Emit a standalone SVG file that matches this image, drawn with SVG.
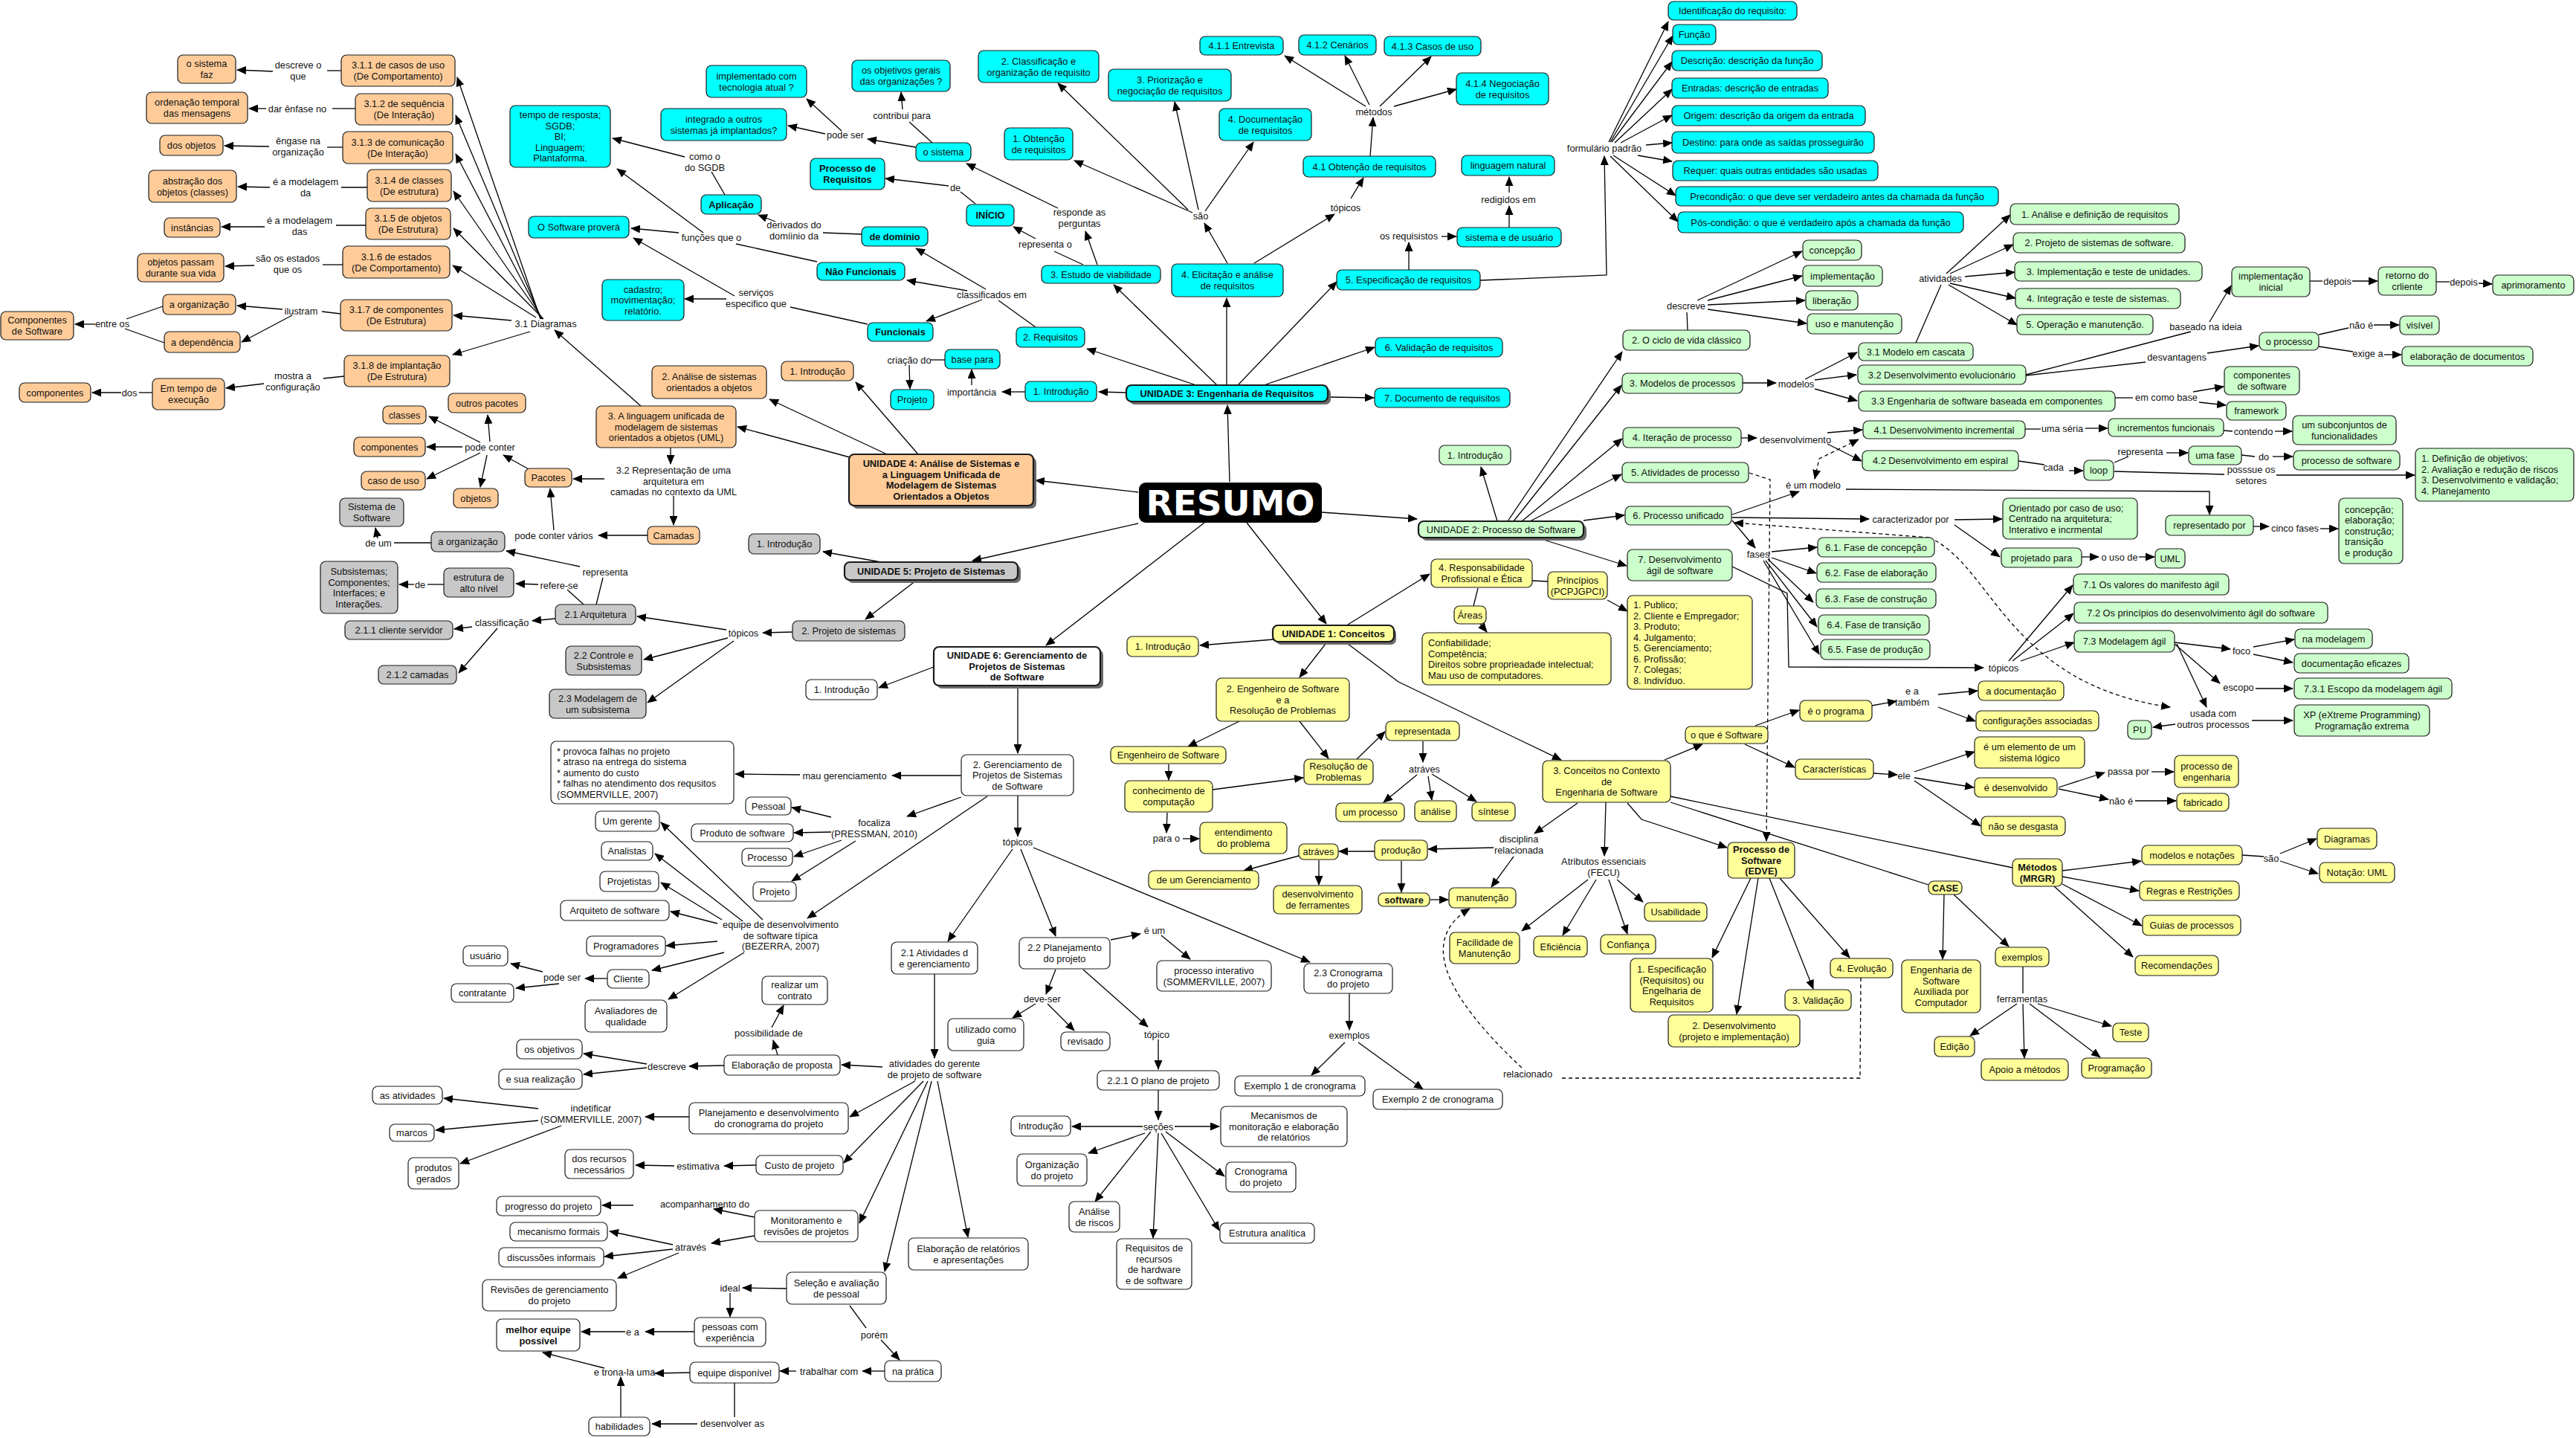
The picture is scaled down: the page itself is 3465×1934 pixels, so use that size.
<svg xmlns="http://www.w3.org/2000/svg" width="3465" height="1934" viewBox="0 0 3465 1934">
<style>
text{font-family:"Liberation Sans",Arial,Helvetica,sans-serif;font-size:12.8px;text-anchor:middle;fill:#111}
.nd rect{stroke:#1a1a1a;stroke-width:1.2;rx:7px;ry:7px}
.o rect{fill:#FFCC99}.c rect{fill:#00FFFF}.g rect{fill:#CCFFCC}.y rect{fill:#FFFF99}.s rect{fill:#C8C8C8}.w rect{fill:#fff}
.b text{font-weight:bold}
.u rect{stroke-width:2.2}
.u rect.sh{fill:#6a6a6a;stroke:none}
.lt text{text-anchor:start}
#conn path{stroke:#000;stroke-width:1.3;fill:none}
#conn path.a{marker-end:url(#ah)}
#conn path.d{stroke-dasharray:5 4}
#conn path.bs{marker-start:url(#ah)}
</style>
<defs>
<marker id="ah" markerUnits="userSpaceOnUse" markerWidth="13" markerHeight="11" refX="12" refY="5.5" orient="auto-start-reverse"><path d="M0,0 L13,5.5 L0,11 z" fill="#000"/></marker>
</defs>
<rect width="3465" height="1934" fill="#fff"/>
<g id="conn">
<path d="M459 95 L440 95"/><path class="a" d="M367 96 L319 94"/>
<path d="M478 146 L447 146"/><path class="a" d="M358 146 L335 146"/>
<path d="M461 198 L440 198"/><path class="a" d="M362 197 L302 196"/>
<path d="M494 252 L459 252"/><path class="a" d="M363 252 L320 251"/>
<path d="M492 303 L452 303"/><path class="a" d="M356 305 L298 305"/>
<path d="M461 356 L434 356"/><path class="a" d="M342 357 L303 358"/>
<path d="M458 422 L433 419"/><path class="a" d="M380 416 L319 411"/><path class="a" d="M393 424 L325 460"/>
<path d="M219 412 L170 429"/><path d="M221 461 L168 442"/><path class="a" d="M128 436 L101 436"/>
<path d="M463 506 L435 509"/><path class="a" d="M355 516 L304 522"/>
<path d="M205 528 L187 528"/><path class="a" d="M163 528 L124 528"/>
<path class="a" d="M727 429 L615 104"/><path class="a" d="M728 429 L613 155"/><path class="a" d="M729 429 L613 207"/><path class="a" d="M730 429 L610 257"/><path class="a" d="M731 429 L610 307"/><path class="a" d="M721 427 L609 357"/><path class="a" d="M688 431 L610 424"/><path class="a" d="M713 446 L609 477"/>
<path class="a" d="M862 546 L746 444"/>
<path class="a" d="M902 602 L902 624"/>
<path class="a" d="M906 667 L906 706"/>
<path class="a" d="M813 644 L771 644"/>
<path class="a" d="M871 720 L805 720"/>
<path class="a" d="M745 713 L740 657"/>
<path class="a" d="M713 632 L677 612"/>
<path class="a" d="M659 594 L656 558"/><path class="a" d="M646 595 L577 560"/><path class="a" d="M622 601 L574 601"/><path class="a" d="M646 609 L574 644"/><path class="a" d="M655 612 L646 655"/>
<path class="a" d="M1531 662 L1393 646"/>
<path class="a" d="M1235 611 L1151 514"/>
<path class="a" d="M1193 611 L1035 537"/>
<path class="a" d="M1143 615 L992 574"/>
<path class="a" d="M1654 648 L1651 545"/>
<path class="a" d="M1515 528 L1478 527"/>
<path class="a" d="M1379 527 L1348 527"/>
<path class="a" d="M1307 518 L1307 497"/>
<path d="M1271 484 L1252 484"/>
<path class="a" d="M1223 491 L1224 523"/>
<path class="a" d="M1609 518 L1462 469"/>
<path class="a" d="M1637 518 L1498 383"/>
<path class="a" d="M1650 518 L1650 401"/>
<path class="a" d="M1665 518 L1798 379"/>
<path class="a" d="M1700 518 L1849 467"/>
<path class="a" d="M1786 534 L1848 535"/>
<path d="M1393 440 L1343 404"/>
<path class="a" d="M1326 389 L1232 334"/>
<path class="a" d="M1301 391 L1220 377"/>
<path class="a" d="M1321 403 L1246 432"/>
<path d="M1159 315 L1107 313"/>
<path class="a" d="M1043 298 L1020 289"/>
<path d="M975 262 L957 231"/>
<path class="a" d="M921 211 L824 186"/>
<path d="M1099 352 L990 328"/>
<path class="a" d="M913 313 L849 307"/>
<path class="a" d="M946 313 L830 227"/>
<path d="M1167 436 L1063 413"/>
<path class="a" d="M977 402 L921 402"/>
<path class="a" d="M988 398 L852 320"/>
<path d="M1312 274 L1292 258"/><path class="a" d="M1276 250 L1191 240"/>
<path d="M1457 356 L1418 338"/><path class="a" d="M1393 321 L1363 305"/>
<path class="a" d="M1476 356 L1460 311"/>
<path class="a" d="M1423 280 L1300 220"/>
<path d="M1254 192 L1223 164"/><path class="a" d="M1214 147 L1212 124"/>
<path class="a" d="M1232 198 L1167 187"/>
<path class="a" d="M1110 180 L1060 169"/>
<path class="a" d="M1132 176 L1085 133"/>
<path class="a" d="M1651 354 L1620 300"/>
<path class="a" d="M1604 286 L1445 216"/>
<path class="a" d="M1598 282 L1423 112"/>
<path class="a" d="M1612 282 L1580 137"/>
<path class="a" d="M1621 284 L1686 191"/>
<path class="a" d="M1687 354 L1795 288"/>
<path class="a" d="M1817 267 L1834 239"/>
<path class="a" d="M1843 210 L1847 158"/>
<path class="a" d="M1837 143 L1728 75"/>
<path class="a" d="M1842 141 L1809 75"/>
<path class="a" d="M1856 143 L1925 76"/>
<path class="a" d="M1875 143 L1959 120"/>
<path class="a" d="M1895 363 L1895 326"/>
<path class="a" d="M1939 318 L1959 318"/>
<path class="a" d="M2030 306 L2030 277"/>
<path class="a" d="M2030 259 L2030 238"/>
<path class="a" d="M1991 377 L2161 370 L2158 210"/>
<path class="a" d="M2164 191 L2244 29"/><path class="a" d="M2166 191 L2250 48"/><path class="a" d="M2168 191 L2249 83"/><path class="a" d="M2172 192 L2249 120"/><path class="a" d="M2180 192 L2249 155"/><path class="a" d="M2214 195 L2249 192"/><path class="a" d="M2203 209 L2249 217"/><path class="a" d="M2170 209 L2254 263"/><path class="a" d="M2166 210 L2257 298"/>
<path class="a" d="M1778 689 L1906 698"/>
<path class="a" d="M2014 701 L1992 628"/>
<path class="a" d="M2028 701 L2182 473"/>
<path class="a" d="M2036 701 L2181 518"/>
<path class="a" d="M2047 701 L2182 590"/>
<path class="a" d="M2058 701 L2181 638"/>
<path class="a" d="M2130 700 L2185 693"/>
<path class="a" d="M2067 723 L2188 761"/>
<path d="M2270 444 L2269 420"/>
<path class="a" d="M2283 404 L2424 338"/><path class="a" d="M2297 404 L2424 371"/><path class="a" d="M2297 410 L2428 404"/><path class="a" d="M2297 416 L2430 435"/>
<path class="a" d="M2344 515 L2389 515"/>
<path class="a" d="M2428 510 L2498 474"/><path class="a" d="M2441 511 L2497 504"/><path class="a" d="M2441 523 L2498 539"/>
<path d="M2577 461 L2611 383"/>
<path class="a" d="M2618 368 L2704 289"/><path class="a" d="M2623 368 L2708 329"/><path class="a" d="M2643 372 L2710 366"/><path class="a" d="M2623 381 L2711 401"/><path class="a" d="M2621 383 L2713 437"/>
<path d="M2725 504 L2947 446"/><path class="a" d="M2972 433 L3001 384"/>
<path d="M2725 505 L2886 487"/><path class="a" d="M2969 475 L3038 465"/>
<path d="M3119 450 L3159 441"/><path class="a" d="M3193 437 L3227 437"/>
<path d="M3119 466 L3165 473"/><path class="a" d="M3207 477 L3230 477"/>
<path d="M3107 378 L3124 378"/><path class="a" d="M3164 378 L3198 378"/>
<path d="M3277 379 L3295 379"/><path class="a" d="M3334 381 L3352 382"/>
<path d="M2845 535 L2869 535"/><path class="a" d="M2950 527 L2991 520"/><path class="a" d="M2958 541 L2994 545"/>
<path class="a" d="M2342 589 L2363 589"/>
<path class="a" d="M2458 582 L2505 578"/><path class="a" d="M2458 597 L2504 620"/>
<path d="M2724 577 L2745 577"/><path class="a" d="M2805 576 L2835 576"/>
<path d="M2991 579 L3003 580"/><path class="a" d="M3060 580 L3083 580"/>
<path d="M2715 620 L2750 625"/><path class="a" d="M2783 633 L2802 633"/>
<path d="M2844 622 L2863 614"/><path class="a" d="M2914 609 L2943 609"/>
<path d="M3015 612 L3033 614"/><path class="a" d="M3057 614 L3084 614"/>
<path d="M2844 634 L2992 638"/><path class="a" d="M3062 639 L3248 639"/>
<path class="a bs d" d="M2441 644 L2447 617 L2500 591"/>
<path class="a d" d="M2353 636 L2381 645 L2376 1131"/>
<path class="a" d="M2330 692 L2420 661"/>
<path class="a" d="M2483 658 L2972 661 L2972 692"/>
<path class="a" d="M3031 708 L3052 708"/>
<path class="a" d="M3121 711 L3145 711"/>
<path class="a" d="M2330 696 L2514 698"/>
<path class="a" d="M2629 699 L2693 698"/>
<path class="a" d="M2629 706 L2690 749"/>
<path class="a" d="M2800 749 L2823 749"/>
<path class="a" d="M2877 749 L2898 749"/>
<path class="a" d="M2330 700 L2361 737"/>
<path class="a d" d="M2595 723 L2333 703"/>
<path class="a d" d="M2595 723 C2680 760 2700 920 2919 951"/>
<path class="a" d="M2383 742 L2444 736"/><path class="a" d="M2383 750 L2443 771"/><path class="a" d="M2378 752 L2439 810"/><path class="a" d="M2375 754 L2444 843"/><path class="a" d="M2372 754 L2447 880"/>
<path class="a" d="M2330 762 L2404 798 L2406 897 L2668 898"/>
<path class="a" d="M2702 889 L2788 787"/><path class="a" d="M2707 889 L2789 825"/><path class="a" d="M2718 889 L2790 864"/>
<path class="a" d="M2925 864 L3000 873"/>
<path class="a" d="M3031 870 L3086 860"/><path class="a" d="M3031 880 L3084 891"/>
<path class="a" d="M2925 866 L2986 919"/>
<path class="a" d="M3034 926 L3084 926"/>
<path class="a" d="M2928 866 L2968 951"/>
<path class="a" d="M3029 969 L3084 969"/>
<path class="a" d="M2926 974 L2896 978"/>
<path class="a" d="M1677 703 L1784 839"/>
<path class="a" d="M1713 860 L1614 868"/>
<path class="a" d="M1783 866 L1748 911"/>
<path class="a" d="M1813 866 L1881 917 L2100 1022"/>
<path class="a" d="M1813 840 L1923 772"/>
<path d="M2061 781 L2082 782"/>
<path class="a" d="M2162 807 L2189 822"/>
<path d="M1988 791 L1982 815"/>
<path class="a" d="M1991 839 L2000 850"/>
<path class="a" d="M1667 970 L1598 1004"/>
<path class="a" d="M1748 970 L1787 1020"/>
<path class="a" d="M1572 1028 L1572 1049"/>
<path class="a" d="M1631 1062 L1753 1046"/>
<path class="a" d="M1570 1093 L1569 1120"/>
<path class="a" d="M1591 1128 L1613 1128"/>
<path class="a" d="M1825 1021 L1863 984"/>
<path class="a" d="M1914 997 L1914 1025"/>
<path class="a" d="M1906 1042 L1861 1079"/><path class="a" d="M1921 1044 L1926 1076"/><path class="a" d="M1926 1041 L1986 1078"/>
<path class="a" d="M2122 1080 L2064 1121"/>
<path class="a" d="M2009 1140 L1921 1142"/>
<path class="a" d="M2036 1152 L2006 1193"/>
<path class="a" d="M1849 1145 L1801 1145"/>
<path class="a" d="M1774 1157 L1774 1190"/>
<path class="a" d="M1747 1151 L1673 1171"/>
<path class="a" d="M1885 1158 L1885 1200"/>
<path class="a" d="M1924 1210 L1948 1210"/>
<path class="a" d="M2160 1079 L2158 1151"/>
<path class="a" d="M2136 1183 L2047 1252"/><path class="a" d="M2147 1183 L2102 1258"/><path class="a" d="M2164 1183 L2189 1256"/><path class="a" d="M2175 1183 L2210 1213"/>
<path class="a" d="M2189 1080 L2208 1102 L2323 1140"/>
<path class="a" d="M2239 1022 L2290 1001"/>
<path class="a" d="M2361 976 L2420 955"/>
<path class="a" d="M2518 949 L2551 943"/>
<path class="a" d="M2607 934 L2660 929"/><path class="a" d="M2607 951 L2657 970"/>
<path class="a" d="M2347 1001 L2414 1032"/>
<path class="a" d="M2520 1040 L2552 1042"/>
<path class="a" d="M2575 1038 L2656 1011"/><path class="a" d="M2575 1046 L2655 1059"/><path class="a" d="M2575 1050 L2664 1111"/>
<path class="a" d="M2769 1059 L2831 1039"/>
<path class="a" d="M2894 1038 L2924 1038"/>
<path class="a" d="M2769 1061 L2836 1075"/>
<path class="a" d="M2872 1077 L2927 1077"/>
<path d="M2247 1071 L2707 1167"/>
<path d="M2247 1079 L2594 1190"/>
<path class="a" d="M2774 1171 L2880 1158"/>
<path d="M3016 1150 L3045 1152"/><path class="a" d="M3067 1148 L3116 1128"/><path class="a" d="M3067 1158 L3118 1175"/>
<path class="a" d="M2774 1179 L2877 1198"/><path class="a" d="M2774 1189 L2881 1245"/><path class="a" d="M2763 1192 L2869 1287"/>
<path class="a" d="M2615 1203 L2613 1290"/>
<path class="a" d="M2628 1203 L2702 1273"/>
<path d="M2721 1300 L2721 1336"/>
<path class="a" d="M2713 1350 L2650 1393"/><path class="a" d="M2721 1350 L2723 1423"/><path class="a" d="M2730 1350 L2825 1422"/><path class="a" d="M2741 1350 L2840 1380"/>
<path class="a" d="M2355 1181 L2303 1288"/><path class="a" d="M2365 1181 L2336 1364"/><path class="a" d="M2380 1181 L2439 1330"/><path class="a" d="M2394 1181 L2488 1288"/>
<path class="d" d="M2503 1315 L2502 1450 L2097 1450"/>
<path class="a d" d="M2047 1436 Q1880 1280 1977 1222"/>
<path class="a" d="M1531 704 L1308 754"/>
<path class="a" d="M1185 756 L1107 742"/>
<path class="a" d="M1232 781 L1164 833"/>
<path class="a" d="M1066 850 L1026 851"/>
<path class="a" d="M977 847 L857 829"/><path class="a" d="M979 858 L866 887"/><path class="a" d="M987 862 L871 945"/>
<path d="M802 813 L811 777"/><path class="a" d="M780 762 L681 741"/>
<path d="M785 813 L763 793"/><path class="a" d="M724 786 L694 785"/>
<path d="M597 786 L575 786"/><path class="a" d="M557 786 L537 786"/>
<path d="M580 730 L530 730"/><path class="a" d="M508 724 L505 710"/>
<path class="a" d="M747 832 L716 835"/>
<path class="a" d="M635 843 L611 846"/><path class="a" d="M669 845 L617 905"/>
<path class="a" d="M1620 703 L1407 868"/>
<path class="a" d="M1256 897 L1182 925"/>
<path class="a" d="M1369 922 L1369 1013"/>
<path class="a" d="M1293 1043 L1200 1043"/><path class="a" d="M1076 1042 L989 1041"/>
<path class="a" d="M1293 1072 L1220 1098"/>
<path class="a" d="M1118 1099 L1065 1086"/><path class="a" d="M1118 1119 L1068 1120"/><path class="a" d="M1132 1130 L1068 1152"/><path class="a" d="M1151 1131 L1065 1185"/>
<path class="a" d="M1328 1071 L1086 1235"/>
<path class="a" d="M1369 1070 L1369 1125"/>
<path class="a" d="M1362 1142 L1275 1266"/><path class="a" d="M1373 1142 L1420 1259"/><path class="a" d="M1390 1140 L1762 1294"/>
<path class="a" d="M1026 1237 L889 1106"/><path class="a" d="M999 1239 L881 1148"/><path class="a" d="M971 1237 L889 1187"/><path class="a" d="M965 1242 L902 1226"/><path class="a" d="M965 1266 L896 1272"/><path class="a" d="M974 1281 L877 1305"/><path class="a" d="M1001 1281 L899 1344"/>
<path class="a" d="M817 1316 L787 1316"/>
<path class="a" d="M730 1307 L687 1296"/><path class="a" d="M752 1323 L694 1329"/>
<path class="a" d="M1494 1264 L1534 1256"/>
<path class="a" d="M1562 1258 L1601 1290"/>
<path class="a" d="M1420 1304 L1407 1337"/>
<path class="a" d="M1393 1350 L1362 1369"/><path class="a" d="M1409 1350 L1445 1386"/>
<path class="a" d="M1457 1304 L1544 1381"/>
<path class="a" d="M1558 1398 L1558 1438"/>
<path class="a" d="M1558 1466 L1558 1506"/>
<path class="a" d="M1537 1515 L1442 1515"/><path class="a" d="M1580 1515 L1640 1515"/><path class="a" d="M1540 1524 L1464 1551"/><path class="a" d="M1548 1522 L1473 1616"/><path class="a" d="M1558 1524 L1551 1665"/><path class="a" d="M1568 1522 L1647 1582"/><path class="a" d="M1562 1524 L1640 1655"/>
<path class="a" d="M1815 1336 L1815 1385"/>
<path class="a" d="M1809 1402 L1764 1446"/><path class="a" d="M1827 1402 L1914 1465"/>
<path class="a" d="M1257 1310 L1257 1423"/>
<path class="a" d="M1187 1435 L1132 1432"/><path class="a" d="M1231 1454 L1143 1502"/><path class="a" d="M1242 1454 L1135 1564"/><path class="a" d="M1248 1454 L1156 1645"/><path class="a" d="M1253 1454 L1190 1710"/><path class="a" d="M1261 1454 L1302 1664"/>
<path class="a" d="M1046 1419 L1040 1399"/><path class="a" d="M1038 1382 L1054 1352"/>
<path class="a" d="M974 1433 L927 1434"/>
<path class="a" d="M870 1431 L785 1417"/><path class="a" d="M870 1436 L785 1445"/>
<path class="a" d="M927 1502 L868 1502"/>
<path class="a" d="M724 1491 L597 1477"/><path class="a" d="M724 1507 L586 1520"/><path class="a" d="M755 1514 L619 1565"/>
<path class="a" d="M1017 1567 L974 1568"/>
<path class="a" d="M907 1568 L855 1567"/>
<path class="a" d="M1015 1637 L960 1626"/>
<path class="a" d="M852 1621 L810 1621"/>
<path class="a" d="M1015 1662 L957 1672"/>
<path class="a" d="M905 1674 L820 1656"/><path class="a" d="M905 1680 L813 1690"/><path class="a" d="M913 1685 L831 1719"/>
<path class="a" d="M1058 1733 L999 1732"/>
<path class="a" d="M982 1739 L982 1771"/>
<path class="a" d="M934 1791 L868 1791"/>
<path class="a" d="M841 1791 L782 1791"/>
<path d="M1143 1756 L1165 1786"/><path class="a" d="M1185 1802 L1210 1829"/>
<path class="a" d="M1190 1844 L1160 1844"/>
<path class="a" d="M1071 1844 L1049 1844"/>
<path class="a" d="M928 1846 L881 1847"/>
<path class="a" d="M813 1840 L730 1819"/>
<path d="M988 1860 L988 1906"/>
<path class="a" d="M938 1915 L877 1915"/>
<path class="a" d="M835 1906 L835 1852"/>
</g>
<g id="link-labels">
<text x="401" y="92">descreve o<tspan x="401" dy="14.5">que</tspan></text>
<text x="400" y="150.6">dar ênfase no</text>
<text x="401" y="194">êngase na<tspan x="401" dy="14.5">organização</tspan></text>
<text x="411" y="249">é a modelagem<tspan x="411" dy="14.5">da</tspan></text>
<text x="403" y="301">é a modelagem<tspan x="403" dy="14.5">das</tspan></text>
<text x="387" y="352">são os estados<tspan x="387" dy="14.5">que os</tspan></text>
<text x="405" y="422.6">ilustram</text>
<text x="151" y="439.6">entre os</text>
<text x="734" y="439.6">3.1 Diagramas</text>
<text x="394" y="510">mostra a<tspan x="394" dy="14.5">configuração</tspan></text>
<text x="174" y="532.6">dos</text>
<text x="659" y="605.6">pode conter</text>
<text x="906" y="637">3.2 Representação de uma<tspan x="906" dy="14.5">arquitetura em</tspan><tspan x="906" dy="14.5">camadas no contexto da UML</tspan></text>
<text x="745" y="724.6">pode conter vários</text>
<text x="509" y="734.6">de um</text>
<text x="814" y="773.6">representa</text>
<text x="565" y="790.6">de</text>
<text x="752" y="791.6">refere-se</text>
<text x="675" y="841.6">classificação</text>
<text x="948" y="215">como o<tspan x="948" dy="14.5">do SGDB</tspan></text>
<text x="957" y="323.6">funções que o</text>
<text x="1017" y="398">serviços<tspan x="1017" dy="14.5">especifico que</tspan></text>
<text x="1068" y="307">derivados do<tspan x="1068" dy="14.5">domíinio da</tspan></text>
<text x="1137" y="185.6">pode ser</text>
<text x="1213" y="159.6">contribui para</text>
<text x="1285" y="256.6">de</text>
<text x="1452" y="290">responde as<tspan x="1452" dy="14.5">perguntas</tspan></text>
<text x="1406" y="332.6">representa o</text>
<text x="1334" y="400.6">classificados em</text>
<text x="1223" y="488.6">criação do</text>
<text x="1307" y="531.6">importância</text>
<text x="1615" y="294.6">são</text>
<text x="1848" y="154.6">métodos</text>
<text x="1810" y="283.6">tópicos</text>
<text x="2029" y="272.6">redigidos em</text>
<text x="1895" y="321.6">os requisistos</text>
<text x="2158" y="203.6">formulário padrão</text>
<text x="2268" y="415.6">descreve</text>
<text x="2610" y="378.6">atividades</text>
<text x="2416" y="520.6">modelos</text>
<text x="2967" y="443.6">baseado na ideia</text>
<text x="2928" y="484.6">desvantagens</text>
<text x="3144" y="382.6">depois</text>
<text x="3314" y="383.6">depois</text>
<text x="3176" y="441.6">não é</text>
<text x="3185" y="479.6">exige a</text>
<text x="2914" y="538.6">em como base</text>
<text x="2415" y="595.6">desenvolvimento</text>
<text x="2774" y="580.6">uma séria</text>
<text x="3031" y="584.6">contendo</text>
<text x="2762" y="632.6">cada</text>
<text x="2879" y="611.6">representa</text>
<text x="3045" y="618.6">do</text>
<text x="3028" y="636">posssue os<tspan x="3028" dy="14.5">setores</tspan></text>
<text x="2439" y="656.6">é um modelo</text>
<text x="2570" y="702.6">caracterizador por</text>
<text x="3087" y="714.6">cinco fases</text>
<text x="2851" y="753.6">o uso de</text>
<text x="2365" y="749.6">fases</text>
<text x="2695" y="902.6">tópicos</text>
<text x="3015" y="879.6">foco</text>
<text x="3011" y="928.6">escopo</text>
<text x="2977" y="964">usada com<tspan x="2977" dy="14.5">outros processos</tspan></text>
<text x="1916" y="1038.6">atráves</text>
<text x="1569" y="1131.6">para o</text>
<text x="2043" y="1133">disciplina<tspan x="2043" dy="14.5">relacionada</tspan></text>
<text x="2157" y="1163">Atributos essenciais<tspan x="2157" dy="14.5">(FECU)</tspan></text>
<text x="2572" y="934">e a<tspan x="2572" dy="14.5">também</tspan></text>
<text x="2561" y="1047.6">ele</text>
<text x="2863" y="1041.6">passa por</text>
<text x="2853" y="1081.6">não é</text>
<text x="3055" y="1158.6">são</text>
<text x="2720" y="1347.6">ferramentas</text>
<text x="2055" y="1448.6">relacionado</text>
<text x="1815" y="1396.6">exemplos</text>
<text x="1000" y="855.6">tópicos</text>
<text x="1136" y="1047.6">mau gerenciamento</text>
<text x="1176" y="1111">focaliza<tspan x="1176" dy="14.5">(PRESSMAN, 2010)</tspan></text>
<text x="1369" y="1136.6">tópicos</text>
<text x="1050" y="1248">equipe de desenvolvimento<tspan x="1050" dy="14.5">de software típica</tspan><tspan x="1050" dy="14.5">(BEZERRA, 2007)</tspan></text>
<text x="1553" y="1255.6">é um</text>
<text x="756" y="1318.6">pode ser</text>
<text x="1402" y="1347.6">deve-ser</text>
<text x="1556" y="1395.6">tópico</text>
<text x="1558" y="1519.6">seções</text>
<text x="1034" y="1393.6">possibilidade de</text>
<text x="1257" y="1435">atividades do gerente<tspan x="1257" dy="14.5">de projeto de software</tspan></text>
<text x="897" y="1438.6">descreve</text>
<text x="795" y="1495">indetificar<tspan x="795" dy="14.5">(SOMMERVILLE, 2007)</tspan></text>
<text x="939" y="1572.6">estimativa</text>
<text x="948" y="1623.6">acompanhamento do</text>
<text x="929" y="1681.6">através</text>
<text x="982" y="1736.6">ideal</text>
<text x="851" y="1795.6">e a</text>
<text x="1176" y="1799.6">porém</text>
<text x="1115" y="1848.6">trabalhar com</text>
<text x="840" y="1849.6">e trona-la uma</text>
<text x="985" y="1918.6">desenvolver as</text>
</g>
<g id="resumo"><rect x="1532" y="649" width="246" height="54" rx="9" fill="#000"/><text x="1655" y="693" style="font-family:'DejaVu Sans','Liberation Sans',sans-serif;font-size:47px;font-weight:bold;fill:#fff">RESUMO</text></g>
<g id="n1" class="nd o"><rect x="239" y="74" width="78" height="38"/><text x="278" y="90">o sistema<tspan x="278" dy="14.5">faz</tspan></text></g>
<g id="n2" class="nd o"><rect x="459" y="74" width="153" height="42"/><text x="535.5" y="92">3.1.1 de casos de uso<tspan x="535.5" dy="14.5">(De Comportamento)</tspan></text></g>
<g id="n3" class="nd o"><rect x="197" y="124" width="136" height="42"/><text x="265" y="142">ordenação temporal<tspan x="265" dy="14.5">das mensagens</tspan></text></g>
<g id="n4" class="nd o"><rect x="478" y="126" width="131" height="42"/><text x="543.5" y="144">3.1.2 de sequência<tspan x="543.5" dy="14.5">(De Interação)</tspan></text></g>
<g id="n5" class="nd o"><rect x="215" y="182" width="85" height="27"/><text x="257.5" y="200">dos objetos</text></g>
<g id="n6" class="nd o"><rect x="461" y="177" width="148" height="43"/><text x="535" y="196">3.1.3 de comunicação<tspan x="535" dy="14.5">(De Interação)</tspan></text></g>
<g id="n7" class="nd o"><rect x="200" y="229" width="118" height="43"/><text x="259" y="248">abstração dos<tspan x="259" dy="14.5">objetos (classes)</tspan></text></g>
<g id="n8" class="nd o"><rect x="494" y="228" width="113" height="43"/><text x="550.5" y="247">3.1.4 de classes<tspan x="550.5" dy="14.5">(De estrutura)</tspan></text></g>
<g id="n9" class="nd o"><rect x="221" y="293" width="75" height="26"/><text x="258.5" y="310.6">instâncias</text></g>
<g id="n10" class="nd o"><rect x="492" y="280" width="114" height="42"/><text x="549" y="298">3.1.5 de objetos<tspan x="549" dy="14.5">(De Estrutura)</tspan></text></g>
<g id="n11" class="nd o"><rect x="185" y="341" width="116" height="38"/><text x="243" y="357">objetos passam<tspan x="243" dy="14.5">durante sua vida</tspan></text></g>
<g id="n12" class="nd o"><rect x="461" y="331" width="144" height="43"/><text x="533" y="350">3.1.6 de estados<tspan x="533" dy="14.5">(De Comportamento)</tspan></text></g>
<g id="n13" class="nd o"><rect x="219" y="396" width="98" height="27"/><text x="268" y="414">a organização</text></g>
<g id="n14" class="nd o"><rect x="1" y="419" width="98" height="38"/><text x="50" y="435">Componentes<tspan x="50" dy="14.5">de Software</tspan></text></g>
<g id="n15" class="nd o"><rect x="221" y="446" width="102" height="28"/><text x="272" y="464.6">a dependência</text></g>
<g id="n16" class="nd o"><rect x="458" y="403" width="150" height="42"/><text x="533" y="421">3.1.7 de componentes<tspan x="533" dy="14.5">(De Estrutura)</tspan></text></g>
<g id="n17" class="nd o"><rect x="463" y="478" width="142" height="42"/><text x="534" y="496">3.1.8 de implantação<tspan x="534" dy="14.5">(De Estrutura)</tspan></text></g>
<g id="n18" class="nd o"><rect x="205" y="509" width="97" height="42"/><text x="253.5" y="527">Em tempo de<tspan x="253.5" dy="14.5">execução</tspan></text></g>
<g id="n19" class="nd o"><rect x="26" y="515" width="96" height="26"/><text x="74" y="532.6">componentes</text></g>
<g id="n20" class="nd o"><rect x="603" y="529" width="104" height="26"/><text x="655" y="546.6">outros pacotes</text></g>
<g id="n21" class="nd o"><rect x="515" y="546" width="58" height="24"/><text x="544" y="562.6">classes</text></g>
<g id="n22" class="nd o"><rect x="476" y="588" width="96" height="26"/><text x="524" y="605.6">componentes</text></g>
<g id="n23" class="nd o"><rect x="486" y="634" width="86" height="25"/><text x="529" y="651">caso de uso</text></g>
<g id="n24" class="nd o"><rect x="706" y="630" width="63" height="25"/><text x="737.5" y="647">Pacotes</text></g>
<g id="n25" class="nd o"><rect x="610" y="657" width="60" height="26"/><text x="640" y="674.6">objetos</text></g>
<g id="n26" class="nd o"><rect x="802" y="546" width="188" height="56"/><text x="896" y="564">3. A linguagem unificada de<tspan x="896" dy="14.5">modelagem de sistemas</tspan><tspan x="896" dy="14.5">orientados a objetos (UML)</tspan></text></g>
<g id="n27" class="nd o"><rect x="871" y="708" width="70" height="24"/><text x="906" y="724.6">Camadas</text></g>
<g id="n28" class="nd o"><rect x="877" y="492" width="154" height="44"/><text x="954" y="511">2. Análise de sistemas<tspan x="954" dy="14.5">orientados a objetos</tspan></text></g>
<g id="n29" class="nd o"><rect x="1051" y="486" width="97" height="26"/><text x="1099.5" y="503.6">1. Introdução</text></g>
<g id="u4" class="nd o b u"><rect class="sh" x="1146" y="615" width="248" height="69"/><rect x="1142" y="611" width="248" height="69"/><text x="1266" y="628.4">UNIDADE 4: Análise de Sistemas e<tspan x="1266" dy="14.5">a Linguagem Unificada de</tspan><tspan x="1266" dy="14.5">Modelagem de Sistemas</tspan><tspan x="1266" dy="14.5">Orientados a Objetos</tspan></text></g>
<g id="n31" class="nd c"><rect x="686" y="142" width="135" height="83"/><text x="753.5" y="159">tempo de resposta;<tspan x="753.5" dy="14.5">SGDB;</tspan><tspan x="753.5" dy="14.5">BI;</tspan><tspan x="753.5" dy="14.5">Linguagem;</tspan><tspan x="753.5" dy="14.5">Plantaforma.</tspan></text></g>
<g id="n32" class="nd c"><rect x="711" y="291" width="135" height="29"/><text x="778.5" y="310">O Software proverá</text></g>
<g id="n33" class="nd c"><rect x="810" y="376" width="110" height="55"/><text x="865" y="393.6">cadastro;<tspan x="865" dy="14.5">movimentação;</tspan><tspan x="865" dy="14.5">relatório.</tspan></text></g>
<g id="n34" class="nd c"><rect x="950" y="88" width="135" height="43"/><text x="1017.5" y="107">implementado com<tspan x="1017.5" dy="14.5">tecnologia atual ?</tspan></text></g>
<g id="n35" class="nd c"><rect x="1146" y="81" width="132" height="42"/><text x="1212" y="99">os objetivos gerais<tspan x="1212" dy="14.5">das organizações ?</tspan></text></g>
<g id="n36" class="nd c"><rect x="889" y="146" width="169" height="43"/><text x="973.5" y="165">integrado a outros<tspan x="973.5" dy="14.5">sistemas já implantados?</tspan></text></g>
<g id="n37" class="nd c"><rect x="1232" y="192" width="74" height="25"/><text x="1269" y="209">o sistema</text></g>
<g id="n38" class="nd c b"><rect x="1090" y="213" width="100" height="42"/><text x="1140" y="231">Processo de<tspan x="1140" dy="14.5">Requisitos</tspan></text></g>
<g id="n39" class="nd c b"><rect x="943" y="262" width="81" height="26"/><text x="983.5" y="279.6">Aplicação</text></g>
<g id="n40" class="nd c b"><rect x="1300" y="275" width="64" height="29"/><text x="1332" y="294">INÍCIO</text></g>
<g id="n41" class="nd c b"><rect x="1159" y="305" width="89" height="26"/><text x="1203.5" y="322.6">de domínio</text></g>
<g id="n42" class="nd c b"><rect x="1099" y="353" width="118" height="24"/><text x="1158" y="369.6">Não Funcionais</text></g>
<g id="n43" class="nd c"><rect x="1401" y="357" width="160" height="24"/><text x="1481" y="373.6">3. Estudo de viabilidade</text></g>
<g id="n44" class="nd c"><rect x="1576" y="355" width="150" height="44"/><text x="1651" y="374">4. Elicitação e análise<tspan x="1651" dy="14.5">de requisitos</tspan></text></g>
<g id="n45" class="nd c b"><rect x="1167" y="434" width="88" height="25"/><text x="1211" y="451">Funcionais</text></g>
<g id="n46" class="nd c"><rect x="1367" y="440" width="92" height="27"/><text x="1413" y="458">2. Requisitos</text></g>
<g id="n47" class="nd c"><rect x="1271" y="470" width="74" height="26"/><text x="1308" y="487.6">base para</text></g>
<g id="n48" class="nd c"><rect x="1198" y="524" width="58" height="27"/><text x="1227" y="542">Projeto</text></g>
<g id="n49" class="nd c"><rect x="1379" y="513" width="96" height="27"/><text x="1427" y="531">1. Introdução</text></g>
<g id="u3" class="nd c b u"><rect class="sh" x="1519" y="522" width="271" height="22"/><rect x="1515" y="518" width="271" height="22"/><text x="1650.5" y="533.6">UNIDADE 3: Engenharia de Requisitos</text></g>
<g id="n51" class="nd c"><rect x="1316" y="68" width="162" height="43"/><text x="1397" y="87">2. Classificação e<tspan x="1397" dy="14.5">organização de requisito</tspan></text></g>
<g id="n52" class="nd c"><rect x="1491" y="93" width="165" height="43"/><text x="1573.5" y="112">3. Priorização e<tspan x="1573.5" dy="14.5">negociação de requisitos</tspan></text></g>
<g id="n53" class="nd c"><rect x="1614" y="49" width="112" height="25"/><text x="1670" y="66">4.1.1 Entrevista</text></g>
<g id="n54" class="nd c"><rect x="1351" y="172" width="92" height="43"/><text x="1397" y="191">1. Obtenção<tspan x="1397" dy="14.5">de requisitos</tspan></text></g>
<g id="n55" class="nd c"><rect x="1640" y="146" width="124" height="43"/><text x="1702" y="165">4. Documentação<tspan x="1702" dy="14.5">de requisitos</tspan></text></g>
<g id="n56" class="nd c"><rect x="1747" y="47" width="104" height="27"/><text x="1799" y="65">4.1.2 Cenários</text></g>
<g id="n57" class="nd c"><rect x="1862" y="49" width="130" height="26"/><text x="1927" y="66.6">4.1.3 Casos de uso</text></g>
<g id="n58" class="nd c"><rect x="1959" y="98" width="124" height="43"/><text x="2021" y="117">4.1.4 Negociação<tspan x="2021" dy="14.5">de requisitos</tspan></text></g>
<g id="n59" class="nd c"><rect x="1753" y="210" width="178" height="28"/><text x="1842" y="228.6">4.1 Obtenção de requisitos</text></g>
<g id="n60" class="nd c"><rect x="1966" y="209" width="125" height="27"/><text x="2028.5" y="227">linguagem natural</text></g>
<g id="n61" class="nd c"><rect x="1960" y="306" width="140" height="26"/><text x="2030" y="323.6">sistema e de usuário</text></g>
<g id="n62" class="nd c"><rect x="1798" y="363" width="193" height="27"/><text x="1894.5" y="381">5. Especificação de requisitos</text></g>
<g id="n63" class="nd c"><rect x="2244" y="2" width="173" height="25"/><text x="2330.5" y="19">Identificação do requisito:</text></g>
<g id="n64" class="nd c"><rect x="2250" y="33" width="58" height="27"/><text x="2279" y="51">Função</text></g>
<g id="n65" class="nd c"><rect x="2249" y="68" width="202" height="27"/><text x="2350" y="86">Descrição: descrição da função</text></g>
<g id="n66" class="nd c"><rect x="2249" y="105" width="210" height="27"/><text x="2354" y="123">Entradas: descrição de entradas</text></g>
<g id="n67" class="nd c"><rect x="2249" y="142" width="260" height="27"/><text x="2379" y="160">Origem: descrição da origem da entrada</text></g>
<g id="n68" class="nd c"><rect x="2249" y="177" width="272" height="29"/><text x="2385" y="196">Destino: para onde as saídas prosseguirão</text></g>
<g id="n69" class="nd c"><rect x="2250" y="216" width="276" height="27"/><text x="2388" y="234">Requer: quais outras entidades são usadas</text></g>
<g id="n70" class="nd c"><rect x="2254" y="251" width="434" height="26"/><text x="2471" y="268.6">Precondição: o que deve ser verdadeiro antes da chamada da função</text></g>
<g id="n71" class="nd c"><rect x="2257" y="285" width="384" height="28"/><text x="2449" y="303.6">Pós-condição: o que é verdadeiro após a chamada da função</text></g>
<g id="n72" class="nd c"><rect x="1850" y="454" width="171" height="26"/><text x="1935.5" y="471.6">6. Validação de requisitos</text></g>
<g id="n73" class="nd c"><rect x="1849" y="522" width="182" height="26"/><text x="1940" y="539.6">7. Documento de requisitos</text></g>
<g id="n74" class="nd g"><rect x="2425" y="323" width="79" height="27"/><text x="2464.5" y="341">concepção</text></g>
<g id="n75" class="nd g"><rect x="2425" y="357" width="107" height="28"/><text x="2478.5" y="375.6">implementação</text></g>
<g id="n76" class="nd g"><rect x="2429" y="391" width="70" height="26"/><text x="2464" y="408.6">liberação</text></g>
<g id="n77" class="nd g"><rect x="2431" y="422" width="127" height="27"/><text x="2494.5" y="440">uso e manutenção</text></g>
<g id="n78" class="nd g"><rect x="2183" y="444" width="171" height="27"/><text x="2268.5" y="462">2. O ciclo de vida clássico</text></g>
<g id="n79" class="nd g"><rect x="2182" y="502" width="162" height="27"/><text x="2263" y="520">3. Modelos de processos</text></g>
<g id="n80" class="nd g"><rect x="2500" y="461" width="154" height="24"/><text x="2577" y="477.6">3.1 Modelo em cascata</text></g>
<g id="n81" class="nd g"><rect x="2499" y="491" width="226" height="26"/><text x="2612" y="508.6">3.2 Desenvolvimento evolucionário</text></g>
<g id="n82" class="nd g"><rect x="2500" y="526" width="345" height="27"/><text x="2672.5" y="544">3.3 Engenharia de software baseada em componentes</text></g>
<g id="n83" class="nd g"><rect x="2183" y="575" width="159" height="27"/><text x="2262.5" y="593">4. Iteração de processo</text></g>
<g id="n84" class="nd g"><rect x="2506" y="566" width="218" height="24"/><text x="2615" y="582.6">4.1 Desenvolvimento incremental</text></g>
<g id="n85" class="nd g"><rect x="2505" y="606" width="210" height="27"/><text x="2610" y="624">4.2 Desenvolvimento em espiral</text></g>
<g id="n86" class="nd g"><rect x="2182" y="622" width="170" height="27"/><text x="2267" y="640">5. Atividades de processo</text></g>
<g id="n87" class="nd g"><rect x="1936" y="599" width="96" height="26"/><text x="1984" y="616.6">1. Introdução</text></g>
<g id="n88" class="nd g"><rect x="2704" y="274" width="227" height="28"/><text x="2817.5" y="292.6">1. Análise e definição de requisitos</text></g>
<g id="n89" class="nd g"><rect x="2708" y="313" width="231" height="27"/><text x="2823.5" y="331">2. Projeto de sistemas de software.</text></g>
<g id="n90" class="nd g"><rect x="2710" y="352" width="252" height="26"/><text x="2836" y="369.6">3. Implementação e teste de unidades.</text></g>
<g id="n91" class="nd g"><rect x="2711" y="388" width="222" height="27"/><text x="2822" y="406">4. Integração e teste de sistemas.</text></g>
<g id="n92" class="nd g"><rect x="2713" y="423" width="183" height="27"/><text x="2804.5" y="441">5. Operação e manutenção.</text></g>
<g id="n93" class="nd g"><rect x="3002" y="359" width="105" height="40"/><text x="3054.5" y="376">implementação<tspan x="3054.5" dy="14.5">inicial</tspan></text></g>
<g id="n94" class="nd g"><rect x="3199" y="359" width="78" height="38"/><text x="3238" y="375">retorno do<tspan x="3238" dy="14.5">crliente</tspan></text></g>
<g id="n95" class="nd g"><rect x="3353" y="370" width="109" height="27"/><text x="3407.5" y="388">aprimoramento</text></g>
<g id="n96" class="nd g"><rect x="3039" y="447" width="80" height="24"/><text x="3079" y="463.6">o processo</text></g>
<g id="n97" class="nd g"><rect x="3228" y="425" width="53" height="25"/><text x="3254.5" y="442">visível</text></g>
<g id="n98" class="nd g"><rect x="3231" y="466" width="176" height="26"/><text x="3319" y="483.6">elaboração de documentos</text></g>
<g id="n99" class="nd g"><rect x="2992" y="493" width="101" height="38"/><text x="3042.5" y="509">componentes<tspan x="3042.5" dy="14.5">de software</tspan></text></g>
<g id="n100" class="nd g"><rect x="2995" y="540" width="80" height="25"/><text x="3035" y="557">framework</text></g>
<g id="n101" class="nd g"><rect x="2836" y="563" width="155" height="24"/><text x="2913.5" y="579.6">incrementos funcionais</text></g>
<g id="n102" class="nd g"><rect x="3084" y="559" width="139" height="39"/><text x="3153.5" y="576">um subconjuntos de<tspan x="3153.5" dy="14.5">funcionalidades</tspan></text></g>
<g id="n103" class="nd g"><rect x="2803" y="619" width="40" height="27"/><text x="2823" y="637">loop</text></g>
<g id="n104" class="nd g"><rect x="2944" y="600" width="71" height="25"/><text x="2979.5" y="617">uma fase</text></g>
<g id="n105" class="nd g"><rect x="3085" y="606" width="143" height="26"/><text x="3156.5" y="623.6">processo de software</text></g>
<g id="n106" class="nd g lt"><rect x="3249" y="603" width="213" height="71"/><text x="3257" y="621">1. Definição de objetivos;<tspan x="3257" dy="14.5">2. Avaliação e redução de riscos</tspan><tspan x="3257" dy="14.5">3. Desenvolvimento e validação;</tspan><tspan x="3257" dy="14.5">4. Planejamento</tspan></text></g>
<g id="u2" class="nd g u"><rect class="sh" x="1912" y="705" width="222" height="22"/><rect x="1908" y="701" width="222" height="22"/><text x="2019" y="716.6">UNIDADE 2: Processo de Software</text></g>
<g id="n108" class="nd g"><rect x="2186" y="681" width="143" height="25"/><text x="2257.5" y="698">6. Processo unificado</text></g>
<g id="n109" class="nd g lt"><rect x="2694" y="670" width="181" height="55"/><text x="2702" y="687.6">Orientado por caso de uso;<tspan x="2702" dy="14.5">Centrado na arquitetura;</tspan><tspan x="2702" dy="14.5">Interativo e incrmental</tspan></text></g>
<g id="n110" class="nd g"><rect x="2913" y="693" width="118" height="27"/><text x="2972" y="711">representado por</text></g>
<g id="n111" class="nd g lt"><rect x="3146" y="670" width="86" height="88"/><text x="3154" y="689.6">concepção;<tspan x="3154" dy="14.5">elaboração;</tspan><tspan x="3154" dy="14.5">construção;</tspan><tspan x="3154" dy="14.5">transição</tspan><tspan x="3154" dy="14.5">e produção</tspan></text></g>
<g id="n112" class="nd g"><rect x="2692" y="737" width="108" height="26"/><text x="2746" y="754.6">projetado para</text></g>
<g id="n113" class="nd g"><rect x="2899" y="738" width="40" height="26"/><text x="2919" y="755.6">UML</text></g>
<g id="n114" class="nd g"><rect x="2445" y="723" width="157" height="26"/><text x="2523.5" y="740.6">6.1. Fase de concepção</text></g>
<g id="n115" class="nd g"><rect x="2444" y="757" width="160" height="26"/><text x="2524" y="774.6">6.2. Fase de elaboração</text></g>
<g id="n116" class="nd g"><rect x="2443" y="792" width="161" height="26"/><text x="2523.5" y="809.6">6.3. Fase de construção</text></g>
<g id="n117" class="nd g"><rect x="2446" y="827" width="149" height="27"/><text x="2520.5" y="845">6.4. Fase de transição</text></g>
<g id="n118" class="nd g"><rect x="2449" y="860" width="147" height="27"/><text x="2522.5" y="878">6.5. Fase de produção</text></g>
<g id="n119" class="nd g"><rect x="2189" y="739" width="141" height="42"/><text x="2259.5" y="757">7. Desenvolvimento<tspan x="2259.5" dy="14.5">ágil de software</tspan></text></g>
<g id="n120" class="nd g"><rect x="2789" y="772" width="209" height="28"/><text x="2893.5" y="790.6">7.1 Os valores do manifesto ágil</text></g>
<g id="n121" class="nd g"><rect x="2790" y="810" width="341" height="28"/><text x="2960.5" y="828.6">7.2 Os princípios do desenvolvimento ágil do software</text></g>
<g id="n122" class="nd g"><rect x="2790" y="848" width="135" height="29"/><text x="2857.5" y="867">7.3 Modelagem ágil</text></g>
<g id="n123" class="nd g"><rect x="3087" y="846" width="104" height="26"/><text x="3139" y="863.6">na modelagem</text></g>
<g id="n124" class="nd g"><rect x="3086" y="879" width="154" height="26"/><text x="3163" y="896.6">documentação eficazes</text></g>
<g id="n125" class="nd g"><rect x="3086" y="912" width="212" height="28"/><text x="3192" y="930.6">7.3.1 Escopo da modelagem ágil</text></g>
<g id="n126" class="nd g"><rect x="3086" y="948" width="182" height="42"/><text x="3177" y="966">XP (eXtreme Programming)<tspan x="3177" dy="14.5">Programação extrema</tspan></text></g>
<g id="n127" class="nd g"><rect x="2862" y="969" width="32" height="25"/><text x="2878" y="986">PU</text></g>
<g id="u1" class="nd y b u"><rect class="sh" x="1716" y="845" width="162" height="22"/><rect x="1712" y="841" width="163" height="22"/><text x="1793.5" y="856.6">UNIDADE 1: Conceitos</text></g>
<g id="n129" class="nd y"><rect x="1516" y="856" width="96" height="27"/><text x="1564" y="874">1. Introdução</text></g>
<g id="n130" class="nd y"><rect x="1636" y="912" width="179" height="58"/><text x="1725.5" y="931">2. Engenheiro de Software<tspan x="1725.5" dy="14.5">e a</tspan><tspan x="1725.5" dy="14.5">Resolução de Problemas</tspan></text></g>
<g id="n131" class="nd y"><rect x="1925" y="752" width="136" height="38"/><text x="1993" y="768">4. Responsabilidade<tspan x="1993" dy="14.5">Profissional e Ética</tspan></text></g>
<g id="n132" class="nd y"><rect x="2082" y="769" width="80" height="37"/><text x="2122" y="785">Princípios<tspan x="2122" dy="14.5">(PCPJGPCI)</tspan></text></g>
<g id="n133" class="nd y"><rect x="1956" y="815" width="43" height="24"/><text x="1977.5" y="831.6">Áreas</text></g>
<g id="n134" class="nd y lt"><rect x="1913" y="851" width="254" height="70"/><text x="1921" y="869">Confiabilidade;<tspan x="1921" dy="14.5">Competência;</tspan><tspan x="1921" dy="14.5">Direitos sobre proprieadade intelectual;</tspan><tspan x="1921" dy="14.5">Mau uso de computadores.</tspan></text></g>
<g id="n135" class="nd y lt"><rect x="2189" y="801" width="168" height="126"/><text x="2197" y="818">1. Publico;<tspan x="2197" dy="14.5">2. Cliente e Empregador;</tspan><tspan x="2197" dy="14.5">3. Produto;</tspan><tspan x="2197" dy="14.5">4. Julgamento;</tspan><tspan x="2197" dy="14.5">5. Gerenciamento;</tspan><tspan x="2197" dy="14.5">6. Profissão;</tspan><tspan x="2197" dy="14.5">7. Colegas;</tspan><tspan x="2197" dy="14.5">8. Indivíduo.</tspan></text></g>
<g id="n136" class="nd y"><rect x="1494" y="1004" width="155" height="23"/><text x="1571.5" y="1020">Engenheiro de Software</text></g>
<g id="n137" class="nd y"><rect x="1513" y="1050" width="118" height="42"/><text x="1572" y="1068">conhecimento de<tspan x="1572" dy="14.5">computação</tspan></text></g>
<g id="n138" class="nd y"><rect x="1614" y="1106" width="117" height="42"/><text x="1672.5" y="1124">entendimento<tspan x="1672.5" dy="14.5">do problema</tspan></text></g>
<g id="n139" class="nd y"><rect x="1864" y="970" width="99" height="26"/><text x="1913.5" y="987.6">representada</text></g>
<g id="n140" class="nd y"><rect x="1754" y="1021" width="93" height="34"/><text x="1800.5" y="1035">Resolução de<tspan x="1800.5" dy="14.5">Problemas</tspan></text></g>
<g id="n141" class="nd y"><rect x="1797" y="1080" width="92" height="25"/><text x="1843" y="1097">um processo</text></g>
<g id="n142" class="nd y"><rect x="1903" y="1077" width="56" height="28"/><text x="1931" y="1095.6">análise</text></g>
<g id="n143" class="nd y"><rect x="1980" y="1079" width="58" height="25"/><text x="2009" y="1096">síntese</text></g>
<g id="n144" class="nd y"><rect x="2075" y="1023" width="172" height="56"/><text x="2161" y="1041">3. Conceitos no Contexto<tspan x="2161" dy="14.5">de</tspan><tspan x="2161" dy="14.5">Engenharia de Software</tspan></text></g>
<g id="n145" class="nd y"><rect x="2267" y="977" width="111" height="23"/><text x="2322.5" y="993">o que é Software</text></g>
<g id="n146" class="nd y"><rect x="2421" y="942" width="97" height="28"/><text x="2469.5" y="960.6">é o programa</text></g>
<g id="n147" class="nd y"><rect x="2415" y="1021" width="105" height="27"/><text x="2467.5" y="1039">Características</text></g>
<g id="n148" class="nd y"><rect x="2661" y="916" width="115" height="26"/><text x="2718.5" y="933.6">a documentação</text></g>
<g id="n149" class="nd y"><rect x="2658" y="956" width="165" height="27"/><text x="2740.5" y="974">configurações associadas</text></g>
<g id="n150" class="nd y"><rect x="2656" y="991" width="148" height="42"/><text x="2730" y="1009">é um elemento de um<tspan x="2730" dy="14.5">sistema lógico</tspan></text></g>
<g id="n151" class="nd y"><rect x="2656" y="1046" width="111" height="26"/><text x="2711.5" y="1063.6">é desenvolvido</text></g>
<g id="n152" class="nd y"><rect x="2925" y="1016" width="86" height="43"/><text x="2968" y="1035">processo de<tspan x="2968" dy="14.5">engenharia</tspan></text></g>
<g id="n153" class="nd y"><rect x="2928" y="1067" width="70" height="24"/><text x="2963" y="1083.6">fabricado</text></g>
<g id="n154" class="nd y"><rect x="2665" y="1098" width="113" height="26"/><text x="2721.5" y="1115.6">não se desgasta</text></g>
<g id="n155" class="nd y"><rect x="1849" y="1130" width="71" height="27"/><text x="1884.5" y="1148">produção</text></g>
<g id="n156" class="nd y"><rect x="1747" y="1135" width="53" height="21"/><text x="1773.5" y="1150">atráves</text></g>
<g id="n157" class="nd y"><rect x="1713" y="1191" width="119" height="38"/><text x="1772.5" y="1207">desenvolvimento<tspan x="1772.5" dy="14.5">de ferramentes</tspan></text></g>
<g id="n158" class="nd y"><rect x="1545" y="1171" width="148" height="25"/><text x="1619" y="1188">de um Gerenciamento</text></g>
<g id="n159" class="nd y b"><rect x="1854" y="1201" width="69" height="18"/><text x="1888.5" y="1214.6">software</text></g>
<g id="n160" class="nd y"><rect x="1949" y="1194" width="90" height="27"/><text x="1994" y="1212">manutenção</text></g>
<g id="n161" class="nd y"><rect x="2212" y="1214" width="84" height="25"/><text x="2254" y="1231">Usabilidade</text></g>
<g id="n162" class="nd y"><rect x="1950" y="1254" width="94" height="42"/><text x="1997" y="1272">Facilidade de<tspan x="1997" dy="14.5">Manutenção</tspan></text></g>
<g id="n163" class="nd y"><rect x="2063" y="1259" width="72" height="28"/><text x="2099" y="1277.6">Eficiência</text></g>
<g id="n164" class="nd y"><rect x="2153" y="1257" width="74" height="26"/><text x="2190" y="1274.6">Confiança</text></g>
<g id="n165" class="nd y b"><rect x="2324" y="1133" width="90" height="48"/><text x="2369" y="1147">Processo de<tspan x="2369" dy="14.5">Software</tspan><tspan x="2369" dy="14.5">(EDVE)</tspan></text></g>
<g id="n166" class="nd y"><rect x="2193" y="1289" width="111" height="72"/><text x="2248.5" y="1308">1. Especificação<tspan x="2248.5" dy="14.5">(Requisitos) ou</tspan><tspan x="2248.5" dy="14.5">Engelharia de</tspan><tspan x="2248.5" dy="14.5">Requisitos</tspan></text></g>
<g id="n167" class="nd y"><rect x="2462" y="1289" width="84" height="26"/><text x="2504" y="1306.6">4. Evolução</text></g>
<g id="n168" class="nd y"><rect x="2401" y="1331" width="89" height="28"/><text x="2445.5" y="1349.6">3. Validação</text></g>
<g id="n169" class="nd y"><rect x="2244" y="1365" width="177" height="43"/><text x="2332.5" y="1384">2. Desenvolvimento<tspan x="2332.5" dy="14.5">(projeto e implementação)</tspan></text></g>
<g id="n170" class="nd y b"><rect x="2707" y="1155" width="67" height="37"/><text x="2740.5" y="1171">Métodos<tspan x="2740.5" dy="14.5">(MRGR)</tspan></text></g>
<g id="n171" class="nd y b"><rect x="2594" y="1185" width="45" height="18"/><text x="2616.5" y="1198.6">CASE</text></g>
<g id="n172" class="nd y"><rect x="2881" y="1137" width="135" height="26"/><text x="2948.5" y="1154.6">modelos e notações</text></g>
<g id="n173" class="nd y"><rect x="3117" y="1114" width="80" height="28"/><text x="3157" y="1132.6">Diagramas</text></g>
<g id="n174" class="nd y"><rect x="3120" y="1160" width="101" height="27"/><text x="3170.5" y="1178">Notação: UML</text></g>
<g id="n175" class="nd y"><rect x="2878" y="1185" width="134" height="26"/><text x="2945" y="1202.6">Regras e Restrições</text></g>
<g id="n176" class="nd y"><rect x="2882" y="1231" width="132" height="27"/><text x="2948" y="1249">Guias de processos</text></g>
<g id="n177" class="nd y"><rect x="2684" y="1274" width="72" height="26"/><text x="2720" y="1291.6">exemplos</text></g>
<g id="n178" class="nd y"><rect x="2872" y="1285" width="112" height="27"/><text x="2928" y="1303">Recomendações</text></g>
<g id="n179" class="nd y"><rect x="2558" y="1291" width="106" height="71"/><text x="2611" y="1309.4">Engenharia de<tspan x="2611" dy="14.5">Software</tspan><tspan x="2611" dy="14.5">Auxiliada por</tspan><tspan x="2611" dy="14.5">Computador</tspan></text></g>
<g id="n180" class="nd y"><rect x="2842" y="1376" width="48" height="25"/><text x="2866" y="1393">Teste</text></g>
<g id="n181" class="nd y"><rect x="2602" y="1394" width="54" height="27"/><text x="2629" y="1412">Edição</text></g>
<g id="n182" class="nd y"><rect x="2665" y="1424" width="117" height="29"/><text x="2723.5" y="1443">Apoio a métodos</text></g>
<g id="n183" class="nd y"><rect x="2800" y="1423" width="94" height="27"/><text x="2847" y="1441">Programação</text></g>
<g id="n184" class="nd s"><rect x="457" y="670" width="86" height="38"/><text x="500" y="686">Sistema de<tspan x="500" dy="14.5">Software</tspan></text></g>
<g id="n185" class="nd s"><rect x="580" y="715" width="99" height="27"/><text x="629.5" y="733">a organização</text></g>
<g id="n186" class="nd s"><rect x="431" y="755" width="104" height="70"/><text x="483" y="773">Subsistemas;<tspan x="483" dy="14.5">Componentes;</tspan><tspan x="483" dy="14.5">Interfaces; e</tspan><tspan x="483" dy="14.5">Interações.</tspan></text></g>
<g id="n187" class="nd s"><rect x="597" y="764" width="94" height="39"/><text x="644" y="781">estrutura de<tspan x="644" dy="14.5">alto nível</tspan></text></g>
<g id="n188" class="nd s"><rect x="747" y="813" width="108" height="27"/><text x="801" y="831">2.1 Arquitetura</text></g>
<g id="n189" class="nd s"><rect x="464" y="835" width="145" height="25"/><text x="536.5" y="852">2.1.1 cliente servidor</text></g>
<g id="n190" class="nd s"><rect x="509" y="895" width="105" height="25"/><text x="561.5" y="912">2.1.2 camadas</text></g>
<g id="n191" class="nd s"><rect x="761" y="869" width="102" height="39"/><text x="812" y="886">2.2 Controle e<tspan x="812" dy="14.5">Subsistemas</tspan></text></g>
<g id="n192" class="nd s"><rect x="739" y="927" width="130" height="39"/><text x="804" y="944">2.3 Modelagem de<tspan x="804" dy="14.5">um subsistema</tspan></text></g>
<g id="n193" class="nd s"><rect x="1007" y="718" width="96" height="27"/><text x="1055" y="736">1. Introdução</text></g>
<g id="u5" class="nd s b u"><rect class="sh" x="1140" y="760" width="233" height="24"/><rect x="1136" y="756" width="233" height="24"/><text x="1252.5" y="772.6">UNIDADE 5: Projeto de Sistemas</text></g>
<g id="n195" class="nd s"><rect x="1066" y="835" width="151" height="27"/><text x="1141.5" y="853">2. Projeto de sistemas</text></g>
<g id="u6" class="nd w b u"><rect class="sh" x="1260" y="874" width="224" height="52"/><rect x="1256" y="870" width="224" height="52"/><text x="1368" y="886">UNIDADE 6: Gerenciamento de<tspan x="1368" dy="14.5">Projetos de Sistemas</tspan><tspan x="1368" dy="14.5">de Software</tspan></text></g>
<g id="n197" class="nd w"><rect x="1084" y="914" width="96" height="27"/><text x="1132" y="932">1. Introdução</text></g>
<g id="n198" class="nd w"><rect x="1293" y="1015" width="151" height="55"/><text x="1368.5" y="1032.6">2. Gerenciamento de<tspan x="1368.5" dy="14.5">Projetos de Sistemas</tspan><tspan x="1368.5" dy="14.5">de Software</tspan></text></g>
<g id="n199" class="nd w lt"><rect x="741" y="997" width="246" height="84"/><text x="749" y="1014.6">* provoca falhas no projeto<tspan x="749" dy="14.5">* atraso na entrega do sistema</tspan><tspan x="749" dy="14.5">* aumento do custo</tspan><tspan x="749" dy="14.5">* falhas no atendimento dos requsitos</tspan><tspan x="749" dy="14.5">(SOMMERVILLE, 2007)</tspan></text></g>
<g id="n200" class="nd w"><rect x="1003" y="1072" width="61" height="24"/><text x="1033.5" y="1088.6">Pessoal</text></g>
<g id="n201" class="nd w"><rect x="930" y="1108" width="137" height="24"/><text x="998.5" y="1124.6">Produto de software</text></g>
<g id="n202" class="nd w"><rect x="998" y="1141" width="68" height="24"/><text x="1032" y="1157.6">Processo</text></g>
<g id="n203" class="nd w"><rect x="1013" y="1186" width="58" height="26"/><text x="1042" y="1203.6">Projeto</text></g>
<g id="n204" class="nd w"><rect x="801" y="1091" width="86" height="27"/><text x="844" y="1109">Um gerente</text></g>
<g id="n205" class="nd w"><rect x="809" y="1132" width="69" height="25"/><text x="843.5" y="1149">Analistas</text></g>
<g id="n206" class="nd w"><rect x="807" y="1172" width="79" height="27"/><text x="846.5" y="1190">Projetistas</text></g>
<g id="n207" class="nd w"><rect x="754" y="1211" width="146" height="27"/><text x="827" y="1229">Arquiteto de software</text></g>
<g id="n208" class="nd w"><rect x="789" y="1259" width="106" height="27"/><text x="842" y="1277">Programadores</text></g>
<g id="n209" class="nd w"><rect x="623" y="1272" width="60" height="27"/><text x="653" y="1290">usuário</text></g>
<g id="n210" class="nd w"><rect x="817" y="1304" width="56" height="25"/><text x="845" y="1321">Cliente</text></g>
<g id="n211" class="nd w"><rect x="607" y="1323" width="84" height="25"/><text x="649" y="1340">contratante</text></g>
<g id="n212" class="nd w"><rect x="787" y="1345" width="110" height="43"/><text x="842" y="1364">Avaliadores de<tspan x="842" dy="14.5">qualidade</tspan></text></g>
<g id="n213" class="nd w"><rect x="1199" y="1267" width="116" height="43"/><text x="1257" y="1286">2.1 Atividades d<tspan x="1257" dy="14.5">e gerenciamento</tspan></text></g>
<g id="n214" class="nd w"><rect x="1371" y="1261" width="122" height="42"/><text x="1432" y="1279">2.2 Planejamento<tspan x="1432" dy="14.5">do projeto</tspan></text></g>
<g id="n215" class="nd w"><rect x="1556" y="1292" width="154" height="41"/><text x="1633" y="1310">processo interativo<tspan x="1633" dy="14.5">(SOMMERVILLE, 2007)</tspan></text></g>
<g id="n216" class="nd w"><rect x="1275" y="1370" width="102" height="43"/><text x="1326" y="1389">utilizado como<tspan x="1326" dy="14.5">guia</tspan></text></g>
<g id="n217" class="nd w"><rect x="1427" y="1388" width="66" height="25"/><text x="1460" y="1405">revisado</text></g>
<g id="n218" class="nd w"><rect x="1476" y="1440" width="164" height="26"/><text x="1558" y="1457.6">2.2.1 O plano de projeto</text></g>
<g id="n219" class="nd w"><rect x="1360" y="1501" width="80" height="27"/><text x="1400" y="1519">Introdução</text></g>
<g id="n220" class="nd w"><rect x="1642" y="1488" width="170" height="54"/><text x="1727" y="1505">Mecanismos de<tspan x="1727" dy="14.5">monitoração e elaboração</tspan><tspan x="1727" dy="14.5">de relatórios</tspan></text></g>
<g id="n221" class="nd w"><rect x="1368" y="1552" width="94" height="43"/><text x="1415" y="1571">Organização<tspan x="1415" dy="14.5">do projeto</tspan></text></g>
<g id="n222" class="nd w"><rect x="1649" y="1563" width="94" height="40"/><text x="1696" y="1580">Cronograma<tspan x="1696" dy="14.5">do projeto</tspan></text></g>
<g id="n223" class="nd w"><rect x="1438" y="1616" width="68" height="41"/><text x="1472" y="1634">Análise<tspan x="1472" dy="14.5">de riscos</tspan></text></g>
<g id="n224" class="nd w"><rect x="1641" y="1645" width="127" height="27"/><text x="1704.5" y="1663">Estrutura analítica</text></g>
<g id="n225" class="nd w"><rect x="1502" y="1666" width="101" height="68"/><text x="1552.5" y="1683">Requisitos de<tspan x="1552.5" dy="14.5">recursos</tspan><tspan x="1552.5" dy="14.5">de hardware</tspan><tspan x="1552.5" dy="14.5">e de software</tspan></text></g>
<g id="n226" class="nd w"><rect x="1754" y="1296" width="119" height="40"/><text x="1813.5" y="1313">2.3 Cronograma<tspan x="1813.5" dy="14.5">do projeto</tspan></text></g>
<g id="n227" class="nd w"><rect x="1661" y="1447" width="175" height="27"/><text x="1748.5" y="1465">Exemplo 1 de cronograma</text></g>
<g id="n228" class="nd w"><rect x="1847" y="1465" width="174" height="27"/><text x="1934" y="1483">Exemplo 2 de cronograma</text></g>
<g id="n229" class="nd w"><rect x="1025" y="1313" width="88" height="38"/><text x="1069" y="1329">realizar um<tspan x="1069" dy="14.5">contrato</tspan></text></g>
<g id="n230" class="nd w"><rect x="974" y="1419" width="156" height="27"/><text x="1052" y="1437">Elaboração de proposta</text></g>
<g id="n231" class="nd w"><rect x="695" y="1398" width="88" height="26"/><text x="739" y="1415.6">os objetivos</text></g>
<g id="n232" class="nd w"><rect x="671" y="1438" width="112" height="27"/><text x="727" y="1456">e sua realização</text></g>
<g id="n233" class="nd w"><rect x="501" y="1461" width="94" height="24"/><text x="548" y="1477.6">as atividades</text></g>
<g id="n234" class="nd w"><rect x="524" y="1512" width="60" height="23"/><text x="554" y="1528">marcos</text></g>
<g id="n235" class="nd w"><rect x="549" y="1557" width="68" height="42"/><text x="583" y="1575">produtos<tspan x="583" dy="14.5">gerados</tspan></text></g>
<g id="n236" class="nd w"><rect x="927" y="1483" width="214" height="42"/><text x="1034" y="1501">Planejamento e desenvolvimento<tspan x="1034" dy="14.5">do cronograma do projeto</tspan></text></g>
<g id="n237" class="nd w"><rect x="760" y="1546" width="92" height="39"/><text x="806" y="1563">dos recursos<tspan x="806" dy="14.5">necessários</tspan></text></g>
<g id="n238" class="nd w"><rect x="1017" y="1554" width="117" height="26"/><text x="1075.5" y="1571.6">Custo de projeto</text></g>
<g id="n239" class="nd w"><rect x="668" y="1609" width="140" height="26"/><text x="738" y="1626.6">progresso do projeto</text></g>
<g id="n240" class="nd w"><rect x="686" y="1644" width="131" height="25"/><text x="751.5" y="1661">mecanismo formais</text></g>
<g id="n241" class="nd w"><rect x="671" y="1678" width="141" height="26"/><text x="741.5" y="1695.6">discussões informais</text></g>
<g id="n242" class="nd w"><rect x="649" y="1721" width="180" height="42"/><text x="739" y="1739">Revisões de gerenciamento<tspan x="739" dy="14.5">do projeto</tspan></text></g>
<g id="n243" class="nd w"><rect x="1015" y="1628" width="139" height="42"/><text x="1084.5" y="1646">Monitoramento e<tspan x="1084.5" dy="14.5">revisões de projetos</tspan></text></g>
<g id="n244" class="nd w"><rect x="1222" y="1665" width="161" height="43"/><text x="1302.5" y="1684">Elaboração de relatórios<tspan x="1302.5" dy="14.5">e apresentações</tspan></text></g>
<g id="n245" class="nd w"><rect x="1058" y="1711" width="134" height="43"/><text x="1125" y="1730">Seleção e avaliação<tspan x="1125" dy="14.5">de pessoal</tspan></text></g>
<g id="n246" class="nd w"><rect x="934" y="1772" width="96" height="39"/><text x="982" y="1789">pessoas com<tspan x="982" dy="14.5">experiência</tspan></text></g>
<g id="n247" class="nd w b"><rect x="668" y="1774" width="112" height="43"/><text x="724" y="1793">melhor equipe<tspan x="724" dy="14.5">possível</tspan></text></g>
<g id="n248" class="nd w"><rect x="1190" y="1830" width="76" height="28"/><text x="1228" y="1848.6">na prática</text></g>
<g id="n249" class="nd w"><rect x="928" y="1832" width="120" height="28"/><text x="988" y="1850.6">equipe disponível</text></g>
<g id="n250" class="nd w"><rect x="792" y="1906" width="82" height="25"/><text x="833" y="1923">habilidades</text></g>
</svg>
